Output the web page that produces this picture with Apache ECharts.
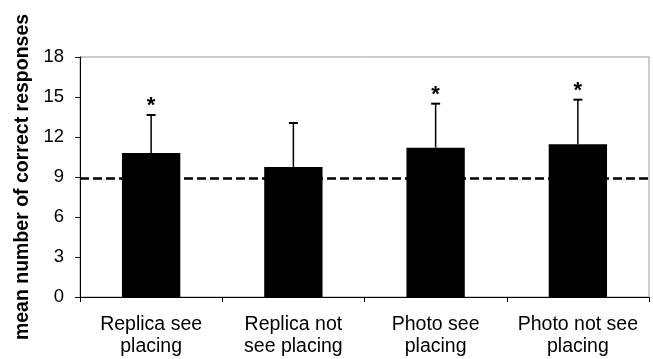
<!DOCTYPE html>
<html><head><meta charset="utf-8">
<script src="https://cdn.jsdelivr.net/npm/echarts@6/dist/echarts.min.js"></script>
<style>html,body{margin:0;padding:0;background:#fff}#c{width:653px;height:359px}</style>
</head><body><div id="c"></div>
<script>
const categories = ['Replica see\nplacing', 'Replica not\nsee placing', 'Photo see\nplacing', 'Photo not see\nplacing'];
const means = [10.8, 9.75, 11.2, 11.45];
const errorTops = [13.65, 13.05, 14.5, 14.8];
const significant = [true, false, true, true];
const chanceLevel = 8.9;
const yTicks = {min: 0, max: 18, interval: 3};

const chart = echarts.init(document.getElementById('c'));
const font = 'Liberation Sans, Arial, sans-serif';
chart.setOption({
  animation: false,
  grid: {left: 80, right: 4, top: 57, bottom: 62, show: true, borderColor: '#999', borderWidth: 1},
  xAxis: {
    type: 'category', data: categories,
    axisLine: {lineStyle: {color: '#000', width: 1}},
    axisTick: {show: true, interval: 0, length: 5, lineStyle: {color: '#000'}},
    axisLabel: {interval: 0, color: '#000', fontFamily: font, fontSize: 19.5, lineHeight: 22, margin: 17}
  },
  yAxis: {
    type: 'value', min: yTicks.min, max: yTicks.max, interval: yTicks.interval,
    name: 'mean number of correct responses', nameLocation: 'middle', nameGap: 45,
    nameTextStyle: {color: '#000', fontFamily: font, fontSize: 19.5, fontWeight: 'bold'},
    axisLine: {show: true, lineStyle: {color: '#000', width: 1}},
    axisTick: {show: true, length: 5, lineStyle: {color: '#000'}},
    splitLine: {show: false},
    axisLabel: {color: '#000', fontFamily: font, fontSize: 18.5, margin: 16}
  },
  series: [
    {
      type: 'line', data: [], z: 1, silent: true,
      markLine: {
        symbol: 'none', silent: true, label: {show: false},
        lineStyle: {color: '#000', type: [9, 4], width: 2.5},
        data: [{yAxis: chanceLevel}]
      }
    },
    {
      type: 'bar', data: means, barWidth: '41%', z: 3,
      itemStyle: {color: '#000'}
    },
    {
      type: 'custom', z: 4,
      data: means.map((m, i) => [i, m, errorTops[i], significant[i] ? 1 : 0]),
      renderItem: function (params, api) {
        const base = api.coord([api.value(0), api.value(1)]);
        const top = api.coord([api.value(0), api.value(2)]);
        const children = [
          {type: 'line', shape: {x1: base[0], y1: base[1], x2: top[0], y2: top[1]}, style: {stroke: '#000', lineWidth: 1.5}},
          {type: 'line', shape: {x1: top[0] - 4.5, y1: top[1], x2: top[0] + 4.5, y2: top[1]}, style: {stroke: '#000', lineWidth: 2}}
        ];
        if (api.value(3)) {
          children.push({type: 'text', style: {text: '*', x: top[0], y: top[1] - 9, align: 'center', verticalAlign: 'middle', font: 'bold 22px ' + font, fill: '#000'}});
        }
        return {type: 'group', children: children};
      }
    }
  ]
});
</script></body></html>
